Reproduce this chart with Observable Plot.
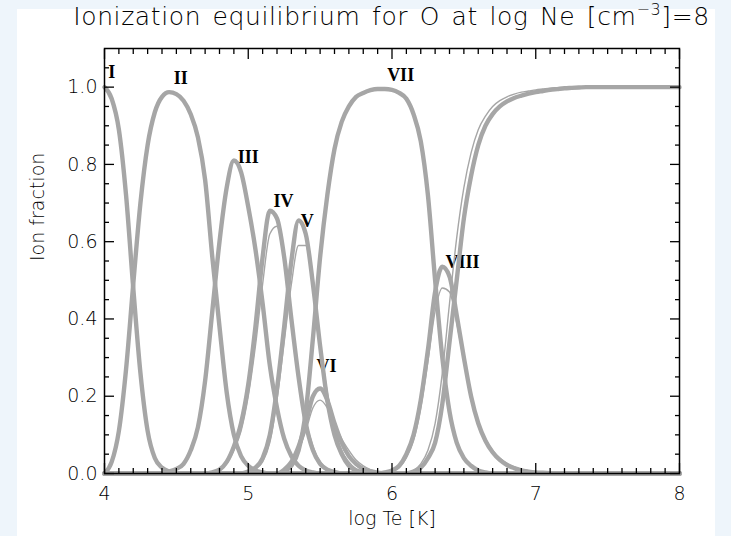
<!DOCTYPE html>
<html><head><meta charset="utf-8">
<script src="https://cdn.jsdelivr.net/npm/d3@7"></script>
<script src="https://cdn.jsdelivr.net/npm/@observablehq/plot@0.6"></script>
<style>
html,body{margin:0;padding:0;}
body{width:731px;height:536px;background:#eef5fb;position:relative;overflow:hidden;font-family:"DejaVu Sans",sans-serif;}
#panel{position:absolute;left:17px;top:9px;width:698px;height:527px;background:#fff;}
#chart{position:absolute;left:0;top:0;}
#title{position:absolute;left:0;width:783px;top:0px;text-align:center;font-family:"DejaVu Sans",sans-serif;font-weight:300;font-size:25px;letter-spacing:0.6px;word-spacing:3px;line-height:34px;color:#000;white-space:nowrap;}
#title sup{font-size:16px;vertical-align:10px;line-height:0;}
</style></head>
<body>
<div id="panel"></div>
<div id="chart"></div>
<div id="title">Ionization equilibrium for O at log Ne [cm<sup>−3</sup>]=8</div>
<script>
const logT = [
 4.00,4.05,4.10,4.15,4.20,4.25,4.30,4.35,4.40,4.45,
 4.50,4.55,4.60,4.65,4.70,4.75,4.80,4.85,4.90,4.95,
 5.00,5.05,5.10,5.15,5.20,5.25,5.30,5.35,5.40,5.45,
 5.50,5.55,5.60,5.65,5.70,5.75,5.80,5.85,5.90,5.95,
 6.00,6.05,6.10,6.15,6.20,6.25,6.30,6.35,6.40,6.45,
 6.50,6.55,6.60,6.65,6.70,6.75,6.80,6.85,6.90,6.95,
 7.00,7.05,7.10,7.15,7.20,7.25,7.30,7.35,7.40,7.45,
 7.50,8.00];

const fracI = [
 1.00,0.97,0.89,0.72,0.48,0.26,0.11,0.04,0.015,0.005,
 0,0,0,0,0,0,0,0,0,0,
 0,0,0,0,0,0,0,0,0,0,
 0,0,0,0,0,0,0,0,0,0,
 0,0,0,0,0,0,0,0,0,0,
 0,0,0,0,0,0,0,0,0,0,
 0,0,0,0,0,0,0,0,0,0,
 0,0];
const fracII = [
 0,0.03,0.11,0.27,0.49,0.70,0.85,0.935,0.975,0.987,
 0.982,0.965,0.93,0.87,0.76,0.56,0.38,0.21,0.10,0.045,
 0.02,0.008,0.003,0,0,0,0,0,0,0,
 0,0,0,0,0,0,0,0,0,0,
 0,0,0,0,0,0,0,0,0,0,
 0,0,0,0,0,0,0,0,0,0,
 0,0,0,0,0,0,0,0,0,0,
 0,0];
const fracIII = [
 0,0,0,0,0,0,0,0,0,0.005,
 0.012,0.025,0.06,0.12,0.24,0.42,0.60,0.74,0.81,0.78,
 0.69,0.58,0.44,0.28,0.17,0.09,0.045,0.02,0.008,0.003,
 0,0,0,0,0,0,0,0,0,0,
 0,0,0,0,0,0,0,0,0,0,
 0,0,0,0,0,0,0,0,0,0,
 0,0,0,0,0,0,0,0,0,0,
 0,0];
const fracIV = [
 0,0,0,0,0,0,0,0,0,0,
 0,0,0,0,0,0.003,0.01,0.03,0.07,0.13,
 0.23,0.38,0.56,0.68,0.66,0.56,0.40,0.25,0.13,0.06,
 0.025,0.01,0.004,0,0,0,0,0,0,0,
 0,0,0,0,0,0,0,0,0,0,
 0,0,0,0,0,0,0,0,0,0,
 0,0,0,0,0,0,0,0,0,0,
 0,0];
const fracV = [
 0,0,0,0,0,0,0,0,0,0,
 0,0,0,0,0,0,0,0,0,0,
 0.005,0.015,0.04,0.10,0.22,0.38,0.55,0.655,0.62,0.49,
 0.33,0.19,0.10,0.05,0.02,0.008,0.003,0,0,0,
 0,0,0,0,0,0,0,0,0,0,
 0,0,0,0,0,0,0,0,0,0,
 0,0,0,0,0,0,0,0,0,0,
 0,0];
const fracVI = [
 0,0,0,0,0,0,0,0,0,0,
 0,0,0,0,0,0,0,0,0,0,
 0,0,0,0,0,0.01,0.03,0.07,0.13,0.20,
 0.22,0.19,0.13,0.08,0.045,0.025,0.012,0.006,0.002,0,
 0,0,0,0,0,0,0,0,0,0,
 0,0,0,0,0,0,0,0,0,0,
 0,0,0,0,0,0,0,0,0,0,
 0,0];
const fracVII = [
 0,0,0,0,0,0,0,0,0,0,
 0,0,0,0,0,0,0,0,0,0,
 0,0,0,0,0,0.005,0.02,0.06,0.16,0.35,
 0.56,0.72,0.84,0.91,0.95,0.975,0.985,0.992,0.995,0.995,
 0.993,0.985,0.97,0.93,0.86,0.72,0.50,0.30,0.16,0.08,
 0.04,0.02,0.008,0.003,0,0,0,0,0,0,
 0,0,0,0,0,0,0,0,0,0,
 0,0];
const fracVIII = [
 0,0,0,0,0,0,0,0,0,0,
 0,0,0,0,0,0,0,0,0,0,
 0,0,0,0,0,0,0,0,0,0,
 0,0,0,0,0,0,0,0,0,0.003,
 0.008,0.02,0.05,0.10,0.19,0.32,0.47,0.535,0.51,0.41,
 0.30,0.20,0.13,0.085,0.055,0.035,0.022,0.014,0.008,0.005,
 0.003,0.002,0.001,0,0,0,0,0,0,0,
 0,0];
const fracIX = [
 0,0,0,0,0,0,0,0,0,0,
 0,0,0,0,0,0,0,0,0,0,
 0,0,0,0,0,0,0,0,0,0,
 0,0,0,0,0,0,0,0,0,0,
 0,0,0,0.005,0.015,0.04,0.08,0.18,0.34,0.50,
 0.66,0.77,0.85,0.90,0.93,0.95,0.963,0.972,0.978,0.983,
 0.987,0.99,0.993,0.995,0.997,0.998,0.999,1,1,1,
 1,1];

// alternative datasets (spread of the curves)
const fracIVb = [
 0,0,0,0,0,0,0,0,0,0,
 0,0,0,0,0,0.002,0.008,0.025,0.06,0.11,
 0.20,0.33,0.49,0.62,0.64,0.55,0.40,0.26,0.14,0.07,
 0.03,0.012,0.005,0,0,0,0,0,0,0,
 0,0,0,0,0,0,0,0,0,0,
 0,0,0,0,0,0,0,0,0,0,
 0,0,0,0,0,0,0,0,0,0,
 0,0];
const fracVb = [
 0,0,0,0,0,0,0,0,0,0,
 0,0,0,0,0,0,0,0,0,0,
 0.004,0.012,0.03,0.08,0.19,0.34,0.49,0.59,0.59,0.48,
 0.34,0.21,0.12,0.06,0.03,0.012,0.005,0,0,0,
 0,0,0,0,0,0,0,0,0,0,
 0,0,0,0,0,0,0,0,0,0,
 0,0,0,0,0,0,0,0,0,0,
 0,0];
const fracVIb = [
 0,0,0,0,0,0,0,0,0,0,
 0,0,0,0,0,0,0,0,0,0,
 0,0,0,0,0,0.008,0.025,0.06,0.11,0.17,
 0.19,0.17,0.13,0.09,0.06,0.035,0.02,0.01,0.004,0.001,
 0,0,0,0,0,0,0,0,0,0,
 0,0,0,0,0,0,0,0,0,0,
 0,0,0,0,0,0,0,0,0,0,
 0,0];
const fracVIIIb = [
 0,0,0,0,0,0,0,0,0,0,
 0,0,0,0,0,0,0,0,0,0,
 0,0,0,0,0,0,0,0,0,0,
 0,0,0,0,0,0,0,0,0,0.002,
 0.006,0.015,0.04,0.085,0.17,0.29,0.42,0.48,0.47,0.39,
 0.29,0.20,0.135,0.09,0.06,0.04,0.026,0.017,0.011,0.007,
 0.004,0.002,0.001,0,0,0,0,0,0,0,
 0,0];
const fracIXb = [
 0,0,0,0,0,0,0,0,0,0,
 0,0,0,0,0,0,0,0,0,0,
 0,0,0,0,0,0,0,0,0,0,
 0,0,0,0,0,0,0,0,0,0,
 0,0,0,0.008,0.025,0.06,0.13,0.26,0.44,0.61,
 0.74,0.83,0.89,0.925,0.95,0.965,0.975,0.982,0.987,0.99,
 0.993,0.995,0.997,0.998,0.999,0.999,1,1,1,1,
 1,1];

const ionNames = ["I","II","III","IV","V","VI","VII","VIII","IX"];
const mainSeries = [fracI,fracII,fracIII,fracIV,fracV,fracVI,fracVII,fracVIII,fracIX];
const altNames = ["IVb","Vb","VIb","VIIIb","IXb"];
const altSeries = [fracIVb,fracVb,fracVIb,fracVIIIb,fracIXb];

const labelText = ["I","II","III","IV","V","VI","VII","VIII"];
const labelT = [4.05, 4.53, 5.0, 5.245, 5.41, 5.545, 6.06, 6.49];
const labelF = [1.039, 1.023, 0.818, 0.705, 0.653, 0.277, 1.031, 0.547];

const yMajor = [0,0.2,0.4,0.6,0.8,1.0];
const yMinor = [0.05,0.1,0.15,0.25,0.3,0.35,0.45,0.5,0.55,0.65,0.7,0.75,0.85,0.9,0.95,1.05];
const xMajor = [4,5,6,7,8];
const xMinor = [4.1,4.2,4.3,4.4,4.5,4.6,4.7,4.8,4.9,5.1,5.2,5.3,5.4,5.5,5.6,5.7,5.8,5.9,
  6.1,6.2,6.3,6.4,6.5,6.6,6.7,6.8,6.9,7.1,7.2,7.3,7.4,7.5,7.6,7.7,7.8,7.9];
const xTitle = "log Te [K]";
const yTitle = "Ion fraction";

[...mainSeries, ...altSeries].forEach((s, k) => { if (s.length !== logT.length) throw new Error("length mismatch " + k + " " + s.length); });

const mainRows = mainSeries.flatMap((s, k) => s.map((v, i) => ({t: logT[i], f: v, ion: ionNames[k]})));
const altRows = altSeries.flatMap((s, k) => s.map((v, i) => ({t: logT[i], f: v, ion: altNames[k]})));
const labels = labelText.map((d, i) => ({text: d, t: labelT[i], f: labelF[i]}));

const gray = "#a6a6a6";
const tickFont = {fontSize: 19, fontFamily: "DejaVu Sans", fontWeight: 300};

const chart = Plot.plot({
  width: 731, height: 536,
  marginLeft: 104, marginRight: 52, marginTop: 48, marginBottom: 63,
  x: {domain: [4, 8]},
  y: {domain: [0, 1.1]},
  style: {background: "transparent", color: "#000", overflow: "visible"},
  marks: [
    Plot.text(labels, {x: "t", y: "f", text: "text", fontFamily: "Liberation Serif", fontWeight: "bold", fontSize: 18, fill: "#000"}),
    Plot.line(altRows, {x: "t", y: "f", z: "ion", stroke: gray, strokeWidth: 1.4, curve: "monotone-x"}),
    Plot.line(mainRows, {x: "t", y: "f", z: "ion", stroke: gray, strokeWidth: 4.4, curve: "monotone-x"}),
    Plot.frame({stroke: "#000", strokeWidth: 1.5}),
    Plot.axisY(yMajor, {anchor: "left", tickSize: 0, tickPadding: 7, tickFormat: d3.format(".1f"), label: null, ...tickFont}),
    Plot.axisY(yMajor, {anchor: "left", tickSize: -10, fill: "none", label: null, strokeWidth: 1.3}),
    Plot.axisY(yMinor, {anchor: "left", tickSize: -5, fill: "none", label: null, strokeWidth: 1.3}),
    Plot.axisY(yMajor, {anchor: "right", tickSize: -10, fill: "none", label: null, strokeWidth: 1.3}),
    Plot.axisY(yMinor, {anchor: "right", tickSize: -5, fill: "none", label: null, strokeWidth: 1.3}),
    Plot.axisX(xMajor, {anchor: "bottom", tickSize: 0, tickPadding: 13, tickFormat: d3.format("d"), label: null, ...tickFont}),
    Plot.axisX(xMajor, {anchor: "bottom", tickSize: -10, fill: "none", label: null, strokeWidth: 1.3}),
    Plot.axisX(xMinor, {anchor: "bottom", tickSize: -5, fill: "none", label: null, strokeWidth: 1.3}),
    Plot.axisX(xMajor, {anchor: "top", tickSize: -10, fill: "none", label: null, strokeWidth: 1.3}),
    Plot.axisX(xMinor, {anchor: "top", tickSize: -5, fill: "none", label: null, strokeWidth: 1.3}),
    Plot.text([yTitle], {frameAnchor: "left", dx: -67, rotate: -90, ...tickFont, fill: "#000"}),
    Plot.text([xTitle], {frameAnchor: "bottom", dy: 51, ...tickFont, fill: "#000"})
  ]
});
document.getElementById("chart").appendChild(chart);
</script>
</body></html>
